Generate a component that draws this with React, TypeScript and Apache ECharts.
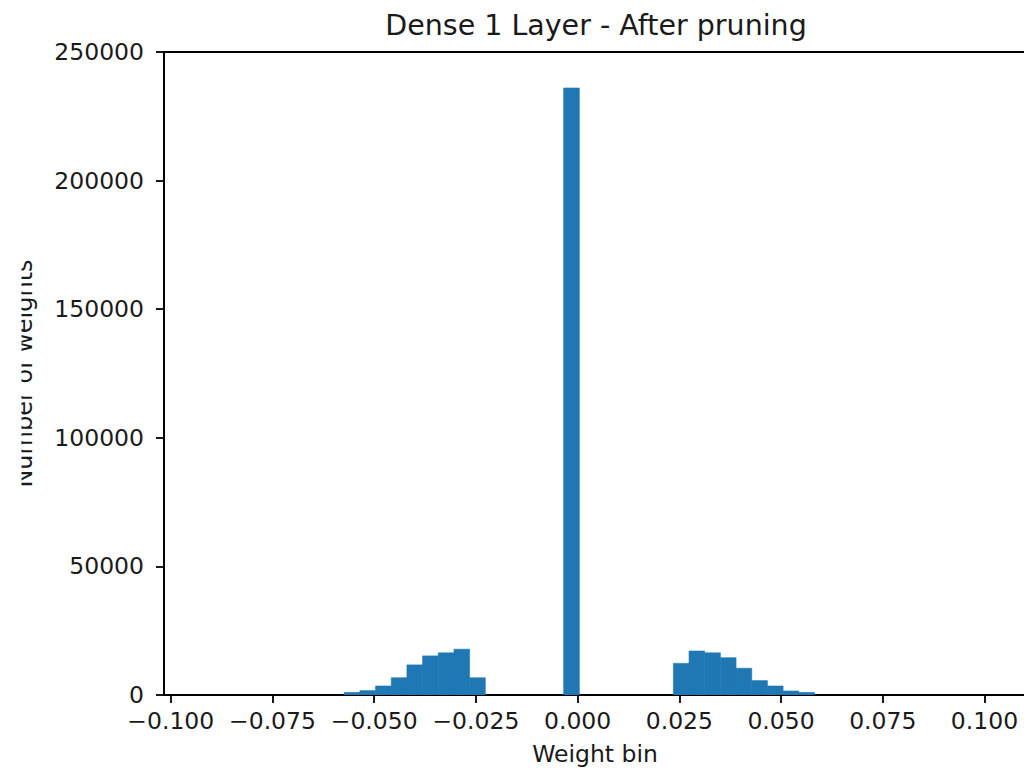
import React, { useEffect, useRef } from "react";
import * as echarts from "echarts";

// Histogram of weights (bin edges start / width)
const binStart = -0.05736;
const binWidth = 0.003852;
const binCounts = [
  1000, 1700, 3500, 6700, 11700, 15200, 16400, 17800, 6700,
  0, 0, 0, 0, 0,
  236000,
  0, 0, 0, 0, 0, 0,
  12300, 17100, 16400, 14500, 10400, 5600, 3500, 1550, 1000,
];
const xTicks = [-0.1, -0.075, -0.05, -0.025, 0, 0.025, 0.05, 0.075, 0.1];
const yTicks = [0, 50000, 100000, 150000, 200000, 250000];
const xMin = -0.10166;
const xMax = 0.1102;

const titleText = "Dense 1 Layer - After pruning";
const xName = "Weight bin";
const yName = "Number of weights";

const FONT = "DejaVu Sans";
const INK = "#1a1a1a";

export default function App() {
  const ref = useRef<HTMLDivElement>(null);
  useEffect(() => {
    if (!ref.current) return;
    const chart = echarts.init(ref.current, null, { renderer: "svg" });
    const data = binCounts.map((c, i) => [
      binStart + i * binWidth,
      binStart + (i + 1) * binWidth,
      c,
    ]);
    const fmtX = (v: number) => {
      const s = Math.abs(v) < 1e-9 ? "0.000" : v.toFixed(3);
      return s.replace("-", "\u2212");
    };
    chart.setOption({
      animation: false,
      backgroundColor: "#ffffff",
      grid: {
        left: 164,
        top: 52,
        right: 4,
        bottom: 75,
        containLabel: false,
        outerBoundsMode: "none",
        show: true,
        borderColor: "#000",
        borderWidth: 1.8,
        backgroundColor: "transparent",
      },
      graphic: [
        {
          type: "text",
          x: 596,
          y: 25,
          style: {
            text: titleText,
            fontFamily: FONT,
            fontSize: 28.5,
            fill: INK,
            textAlign: "center",
            textVerticalAlign: "middle",
          },
        },
        {
          type: "rect",
          z: 100,
          shape: { x: 0, y: 240, width: 21.5, height: 270 },
          style: { fill: "#ffffff" },
        },
      ],
      xAxis: {
        type: "value",
        min: xMin,
        max: xMax,
        name: xName,
        nameLocation: "middle",
        nameGap: 47,
        nameTextStyle: { fontFamily: FONT, fontSize: 23.5, color: INK },
        axisLine: { show: true, onZero: false, lineStyle: { color: "#000", width: 1.8 } },
        axisTick: {
          show: true,
          length: 8,
          lineStyle: { color: "#000", width: 1.8 },
          customValues: xTicks,
        },
        axisLabel: {
          customValues: xTicks,
          formatter: fmtX,
          fontFamily: FONT,
          fontSize: 23.5,
          color: INK,
          margin: 14,
        },
        splitLine: { show: false },
      },
      yAxis: {
        type: "value",
        min: 0,
        max: 250000,
        interval: 50000,
        name: yName,
        nameLocation: "middle",
        nameGap: 128,
        nameTextStyle: { fontFamily: FONT, fontSize: 24, color: INK },
        axisLine: { show: true, onZero: false, lineStyle: { color: "#000", width: 1.8 } },
        axisTick: {
          show: true,
          length: 8,
          lineStyle: { color: "#000", width: 1.8 },
          customValues: yTicks,
        },
        axisLabel: {
          customValues: yTicks,
          formatter: (v: number) => String(v),
          fontFamily: FONT,
          fontSize: 23.5,
          color: INK,
          margin: 20,
        },
        splitLine: { show: false },
      },
      series: [
        {
          type: "custom",
          data,
          encode: { x: [0, 1], y: 2 },
          clip: true,
          renderItem: (params: any, api: any) => {
            const x0 = api.value(0);
            const x1 = api.value(1);
            const y = api.value(2);
            if (!y) return null;
            const p0 = api.coord([x0, y]);
            const p1 = api.coord([x1, 0]);
            return {
              type: "rect",
              shape: {
                x: p0[0],
                y: p0[1],
                width: p1[0] - p0[0],
                height: p1[1] - p0[1],
              },
              style: { fill: "#1f77b4", stroke: "#1f77b4", lineWidth: 0.6 },
            };
          },
        },
      ],
    });
    return () => chart.dispose();
  }, []);
  return (
    <div
      style={{
        position: "fixed",
        left: 0,
        top: 0,
        width: 1024,
        height: 770,
        overflow: "hidden",
        background: "#fff",
      }}
    >
      <div ref={ref} style={{ width: 1030, height: 770 }} />
    </div>
  );
}
